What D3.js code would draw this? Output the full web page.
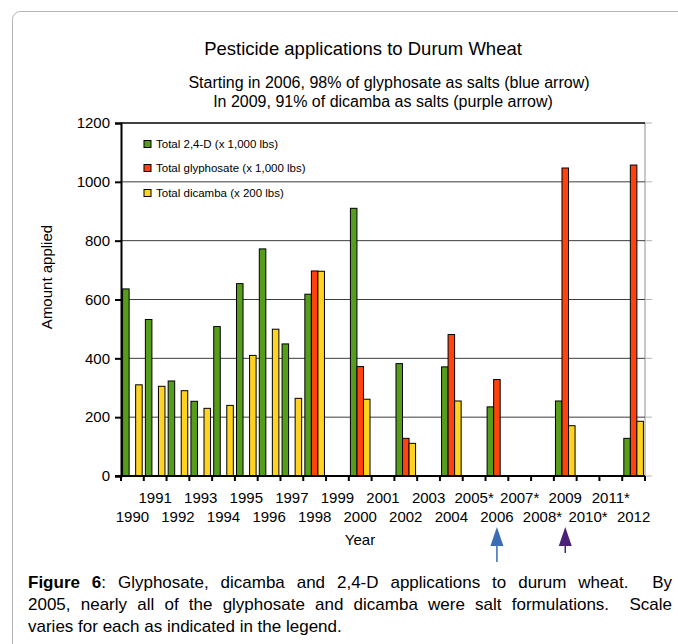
<!DOCTYPE html>
<html>
<head>
<meta charset="utf-8">
<script src="https://cdn.jsdelivr.net/npm/d3@7"></script>
<style>
  body { margin: 0; background: #fff; }
  text { font-family: "Liberation Sans", Arial, sans-serif; fill: #000; }
</style>
</head>
<body>
<svg id="chart" width="678" height="644"></svg>
<script>
// year labels, * = estimated year
let years = ['1990','1991','1992','1993','1994','1995','1996','1997','1998','1999','2000','2001',
             '2002','2003','2004','2005*','2006','2007*','2008*','2009','2010*','2011*','2012'];

// Total 2,4-D (x 1,000 lbs)
let total24D = [636, 532, 323, 254, 508, 654, 772, 449, 618, null, 910, null,
                382, null, 371, null, 235, null, null, 255, null, null, 128];
// Total glyphosate (x 1,000 lbs)
let totalGlyphosate = [null, null, null, null, null, null, null, null, 697, null, 372, null,
                       128, null, 481, null, 328, null, null, 1047, null, null, 1057];
// Total dicamba (x 200 lbs)
let totalDicamba = [310, 305, 290, 230, 240, 410, 499, 264, 696, null, 261, null,
                    111, null, 255, null, null, null, null, 171, null, null, 186];

let seriesNames = ['Total 2,4-D (x 1,000 lbs)', 'Total glyphosate (x 1,000 lbs)', 'Total dicamba (x 200 lbs)'];
let seriesColors = ['#579d1c', '#ff420e', '#ffd320'];
let yTicks = [0, 200, 400, 600, 800, 1000, 1200];

let svg = d3.select('#chart');

let plotLeft = 121, plotRight = 645, plotTop = 123, plotBottom = 476;

let x = d3.scaleBand()
          .domain(years)
          .range([plotLeft, plotRight])
          .paddingInner(0.14)
          .paddingOuter(0.07);

let xSeries = d3.scaleBand()
                .domain([0, 1, 2])
                .range([0, x.bandwidth()]);

let y = d3.scaleLinear()
          .domain([0, 1200])
          .range([plotBottom, plotTop]);

// outer frame
svg.append('rect')
   .attr('x', 12.5).attr('y', 11.5)
   .attr('width', 700).attr('height', 700)
   .attr('rx', 8)
   .attr('fill', 'none')
   .attr('stroke', '#b4b4b4');

// right gray axis + small gray ticks
svg.append('line')
   .attr('x1', plotRight).attr('x2', plotRight)
   .attr('y1', plotTop).attr('y2', plotBottom)
   .attr('stroke', '#b4b4b4').attr('stroke-width', 1.5);

svg.selectAll('.rtick')
   .data(yTicks)
   .enter()
   .append('line')
   .attr('x1', plotRight).attr('x2', plotRight + 7)
   .attr('y1', (d) => y(d)).attr('y2', (d) => y(d))
   .attr('stroke', '#b4b4b4');

// gridlines
svg.selectAll('.grid')
   .data(yTicks)
   .enter()
   .append('line')
   .attr('x1', plotLeft).attr('x2', plotRight)
   .attr('y1', (d) => y(d)).attr('y2', (d) => y(d))
   .attr('stroke', (d) => d === 1200 ? '#000' : '#3c3c3c')
   .attr('stroke-width', (d) => d === 1200 ? 1.5 : 1);

// bars
let allSeries = [total24D, totalGlyphosate, totalDicamba];
let bars = [];
allSeries.forEach((values, s) => {
  values.forEach((v, i) => {
    if (v !== null) bars.push({year: years[i], series: s, value: v});
  });
});

svg.selectAll('.bar')
   .data(bars)
   .enter()
   .append('rect')
   .attr('class', 'bar')
   .attr('x', (d) => x(d.year) + xSeries(d.series))
   .attr('y', (d) => y(d.value))
   .attr('width', xSeries.bandwidth())
   .attr('height', (d) => y(0) - y(d.value))
   .attr('fill', (d) => seriesColors[d.series])
   .attr('stroke', '#000')
   .attr('stroke-width', 1);

// y axis
let yAxis = svg.append('g')
   .attr('transform', 'translate(' + plotLeft + ',0)')
   .call(d3.axisLeft(y).tickValues(yTicks).tickFormat(d3.format('d')).tickSize(6).tickPadding(5));
yAxis.select('.domain').attr('stroke-width', 2);
yAxis.selectAll('.tick line').attr('stroke-width', 2);
yAxis.selectAll('text')
     .style('font-size', '15px')
     .style('font-family', '"Liberation Sans", Arial, sans-serif');

// x axis line and ticks on band boundaries
svg.append('line')
   .attr('x1', plotLeft - 6).attr('x2', plotRight)
   .attr('y1', plotBottom).attr('y2', plotBottom)
   .attr('stroke', '#000').attr('stroke-width', 2);

let bounds = d3.range(years.length + 1).map((i) => x.range()[0] + i * x.step());
svg.selectAll('.xtick')
   .data(bounds)
   .enter()
   .append('line')
   .attr('x1', (d) => d).attr('x2', (d) => d)
   .attr('y1', plotBottom).attr('y2', plotBottom + 5)
   .attr('stroke', '#000').attr('stroke-width', 2);

svg.selectAll('.xlabel')
   .data(years)
   .enter()
   .append('text')
   .attr('x', (d) => x(d) + x.bandwidth() / 2)
   .attr('y', (d, i) => i % 2 === 1 ? 503 : 522)
   .attr('text-anchor', 'middle')
   .style('font-size', '15px')
   .text((d) => d);

svg.append('text')
   .attr('x', 360).attr('y', 545)
   .attr('text-anchor', 'middle')
   .style('font-size', '15px')
   .text('Year');

svg.append('text')
   .attr('transform', 'translate(52,277) rotate(-90)')
   .attr('text-anchor', 'middle')
   .style('font-size', '15px')
   .text('Amount  applied');

// titles
svg.append('text')
   .attr('x', 363).attr('y', 55)
   .attr('text-anchor', 'middle')
   .style('font-size', '18.5px')
   .text('Pesticide applications to Durum Wheat');

svg.append('text')
   .attr('x', 389).attr('y', 88)
   .attr('text-anchor', 'middle')
   .style('font-size', '16px')
   .text('Starting in 2006, 98% of glyphosate as salts (blue arrow)');

svg.append('text')
   .attr('x', 383).attr('y', 107)
   .attr('text-anchor', 'middle')
   .style('font-size', '16px')
   .text('In 2009, 91% of dicamba as salts (purple arrow)');

// legend
let legend = svg.selectAll('.legend')
   .data(seriesNames)
   .enter()
   .append('g')
   .attr('transform', (d, i) => 'translate(144,' + [144, 168, 193][i] + ')');

legend.append('rect')
   .attr('x', 0).attr('y', -3.5)
   .attr('width', 7).attr('height', 7)
   .attr('fill', (d, i) => seriesColors[i])
   .attr('stroke', '#000');

legend.append('text')
   .attr('x', 12).attr('y', 4)
   .style('font-size', '11.5px')
   .text((d) => d);

// arrows under 2006 and 2009
let arrows = [{year: '2006', color: '#3a6db4', stemEnd: 562}, {year: '2009', color: '#4b2177', stemEnd: 553}];
arrows.forEach((a) => {
  let cx = x(a.year) + x.bandwidth() / 2;
  svg.append('line')
     .attr('x1', cx).attr('x2', cx)
     .attr('y1', 540).attr('y2', a.stemEnd)
     .attr('stroke', a.color).attr('stroke-width', 1.5);
  svg.append('path')
     .attr('d', 'M' + cx + ',527 L' + (cx + 6.5) + ',546 L' + (cx - 6.5) + ',546 Z')
     .attr('fill', a.color);
});

// caption, first two lines justified by word spacing
let caption = svg.append('g').style('font-size', '17px');
let line1 = caption.append('text')
   .attr('x', 28).attr('y', 588)
   .style('white-space', 'pre');
line1.append('tspan').style('font-weight', 'bold').text('Figure 6');
line1.append('tspan').text(': Glyphosate, dicamba and 2,4-D applications to durum wheat.  By');

let line2 = caption.append('text')
   .attr('x', 28).attr('y', 610)
   .style('white-space', 'pre')
   .text('2005, nearly all of the glyphosate and dicamba were salt formulations.  Scale');

[line1, line2].forEach((t) => {
  let w = t.node().getComputedTextLength();
  let spaces = t.text().split(' ').length - 1;
  t.style('word-spacing', ((644 - w) / spaces) + 'px');
});

caption.append('text')
   .attr('x', 28).attr('y', 632)
   .text('varies for each as indicated in the legend.');
</script>
</body>
</html>
